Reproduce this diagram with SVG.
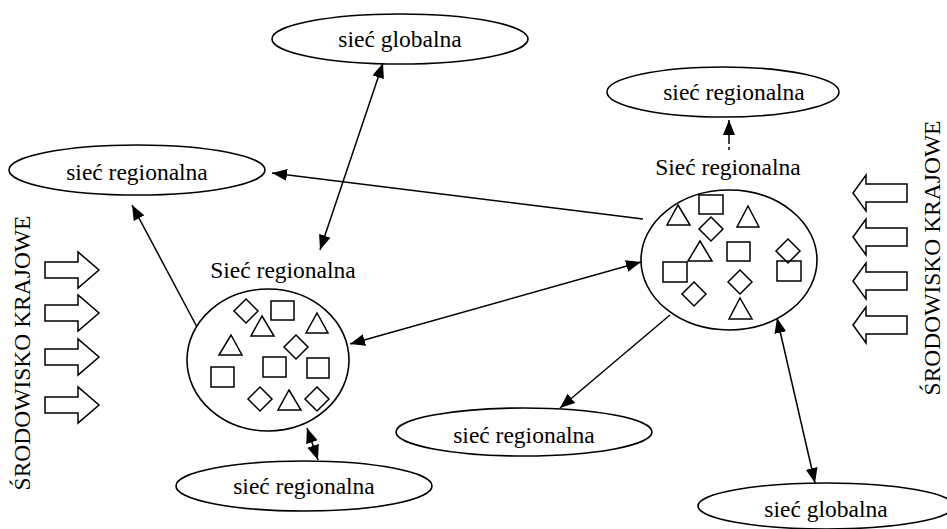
<svg xmlns="http://www.w3.org/2000/svg" width="947" height="529" viewBox="0 0 947 529">
<defs>
<marker id="ah" markerUnits="userSpaceOnUse" markerWidth="16" markerHeight="12" refX="15" refY="6" orient="auto-start-reverse">
<path d="M0,0 L15,6 L0,12 z" fill="#000"/>
</marker>
</defs>
<style>
.el{fill:#fff;stroke:#000;stroke-width:1.6}
.t{font-family:"Liberation Serif","Times New Roman",serif;font-size:23.5px;fill:#000;text-anchor:middle}
.sh{fill:none;stroke:#000;stroke-width:1.5}
.c{fill:none;stroke:#000;stroke-width:1.5}
.ba{fill:#fff;stroke:#000;stroke-width:1.5;stroke-linejoin:miter}
</style>
<rect width="947" height="529" fill="#fff"/>

<g id="connectors">
<line class="c" x1="320" y1="250" x2="383" y2="63" marker-start="url(#ah)" marker-end="url(#ah)"/>
<line class="c" x1="643" y1="219" x2="272" y2="173" marker-end="url(#ah)"/>
<line class="c" x1="197" y1="327" x2="132" y2="205" marker-end="url(#ah)"/>
<line class="c" x1="350" y1="344" x2="641" y2="262" marker-start="url(#ah)" marker-end="url(#ah)"/>
<line class="c" x1="670" y1="315" x2="560" y2="408" marker-end="url(#ah)"/>
<line class="c" x1="777" y1="318" x2="815" y2="483" marker-start="url(#ah)" marker-end="url(#ah)"/>
<line class="c" x1="307" y1="428" x2="318" y2="460" marker-start="url(#ah)" marker-end="url(#ah)"/>
<line class="c" x1="729" y1="144" x2="729" y2="120" marker-end="url(#ah)"/>
<line class="c" x1="729" y1="147" x2="729" y2="150"/>
</g>

<g id="global-top">
<ellipse class="el" cx="400" cy="39" rx="128" ry="25"/>
<text class="t" x="400" y="47">sieć globalna</text>
</g>
<g id="regional-top-right">
<ellipse class="el" cx="723" cy="92" rx="116" ry="25"/>
<text class="t" x="734" y="100">sieć regionalna</text>
</g>
<g id="regional-left">
<ellipse class="el" cx="137" cy="170" rx="128" ry="25"/>
<text class="t" x="137" y="180">sieć regionalna</text>
</g>
<g id="regional-bottom-mid">
<ellipse class="el" cx="524" cy="432" rx="128" ry="24"/>
<text class="t" x="524" y="443">sieć regionalna</text>
</g>
<g id="regional-bottom-left">
<ellipse class="el" cx="304" cy="486" rx="128" ry="25"/>
<text class="t" x="304" y="494">sieć regionalna</text>
</g>
<g id="global-bottom-right">
<ellipse class="el" cx="826" cy="506" rx="128" ry="23"/>
<text class="t" x="826" y="517">sieć globalna</text>
</g>

<g id="network-left">
<text class="t" x="283" y="278">Sieć regionalna</text>
<ellipse class="el" cx="268" cy="360" rx="81" ry="71"/>
<path class="sh" d="M246,299 L258,311 L246,323 L234,311 z"/>
<rect class="sh" x="271" y="301" width="23" height="19"/>
<path class="sh" d="M262,316 L274,336 L251,336 z"/>
<path class="sh" d="M317,313 L328,333 L306,333 z"/>
<path class="sh" d="M231,335 L242,355 L219,355 z"/>
<path class="sh" d="M296,335 L308,347 L296,359 L284,347 z"/>
<rect class="sh" x="263" y="357" width="23" height="20"/>
<rect class="sh" x="307" y="358" width="22" height="20"/>
<rect class="sh" x="211" y="367" width="23" height="20"/>
<path class="sh" d="M260,387 L272,399 L260,411 L248,399 z"/>
<path class="sh" d="M289,390 L301,410 L278,410 z"/>
<path class="sh" d="M317,387 L329,399 L317,411 L305,399 z"/>
</g>

<g id="network-right">
<text class="t" x="728" y="175">Sieć regionalna</text>
<ellipse class="el" cx="729" cy="260" rx="88" ry="70"/>
<path class="sh" d="M678,205 L690,225 L667,225 z"/>
<rect class="sh" x="699" y="195" width="24" height="19"/>
<path class="sh" d="M748,206 L759,227 L737,227 z"/>
<path class="sh" d="M711,217 L723,229 L711,241 L699,229 z"/>
<path class="sh" d="M700,241 L712,261 L688,261 z"/>
<rect class="sh" x="727" y="242" width="23" height="19"/>
<path class="sh" d="M788,239 L800,251 L788,263 L776,251 z"/>
<rect class="sh" x="663" y="262" width="24" height="20"/>
<rect class="sh" x="777" y="261" width="24" height="20"/>
<path class="sh" d="M740,270 L752,282 L740,294 L728,282 z"/>
<path class="sh" d="M694,282 L706,294 L694,306 L682,294 z"/>
<path class="sh" d="M740,298 L752,319 L729,319 z"/>
</g>

<g id="env-left">
<text class="t" transform="translate(30,353) rotate(-90)">ŚRODOWISKO KRAJOWE</text>
<path class="ba" d="M45,262 H78 V252 L99,270 L78,288 V278 H45 z"/>
<path class="ba" d="M45,305 H78 V295 L99,313 L78,331 V321 H45 z"/>
<path class="ba" d="M45,349 H78 V339 L99,357 L78,375 V365 H45 z"/>
<path class="ba" d="M45,397 H78 V387 L99,405 L78,423 V413 H45 z"/>
</g>

<g id="env-right">
<text class="t" transform="translate(940,258) rotate(-90)">ŚRODOWISKO KRAJOWE</text>
<path class="ba" d="M907,184 H866 V175 L853,193 L866,211 V202 H907 z"/>
<path class="ba" d="M907,228 H866 V219 L853,237 L866,255 V246 H907 z"/>
<path class="ba" d="M907,272 H866 V263 L853,281 L866,299 V290 H907 z"/>
<path class="ba" d="M907,316 H866 V307 L853,325 L866,343 V334 H907 z"/>
</g>
</svg>
